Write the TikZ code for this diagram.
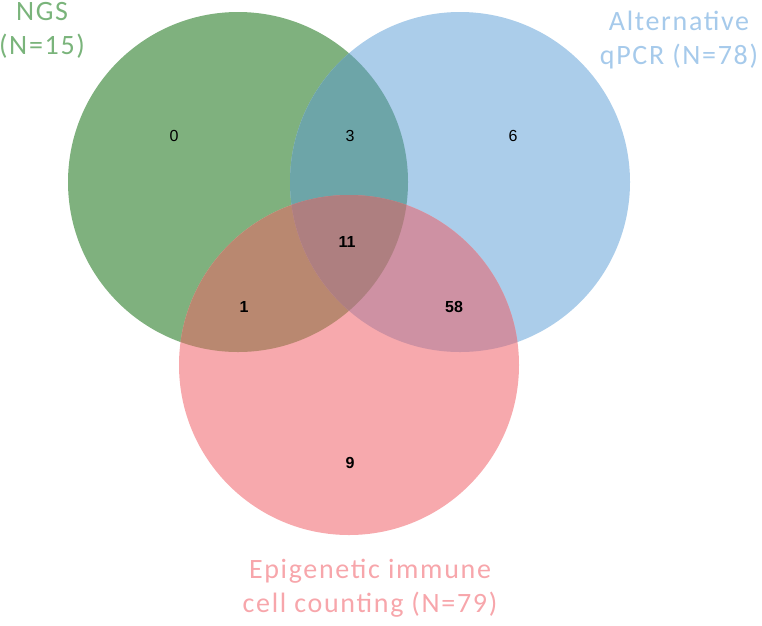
\documentclass[tikz,border=0pt]{standalone}
\usepackage{fontspec}
\setmainfont{Carlito}[LetterSpace=6]
\newfontfamily\numfont{Liberation Sans}
\definecolor{cG}{HTML}{7FB17E}
\definecolor{cB}{HTML}{ABCDEA}
\definecolor{cP}{HTML}{F7A9AD}
\definecolor{cGB}{HTML}{6DA5A8}
\definecolor{cGP}{HTML}{B98870}
\definecolor{cBP}{HTML}{CE91A3}
\definecolor{cGBP}{HTML}{AE7F80}
\definecolor{tG}{HTML}{7AB47B}
\definecolor{tB}{HTML}{A6CAEB}
\definecolor{tP}{HTML}{F7A6AB}
\begin{document}
\begin{tikzpicture}[x=1pt,y=-1pt,
  setlabel/.style={inner sep=0pt, anchor=north, align=center, font=\fontsize{28}{34}\selectfont},
  cnt/.style={inner sep=0pt, font=\numfont\fontsize{16}{18}\selectfont},
  bcnt/.style={cnt, font=\numfont\bfseries\fontsize{16}{18}\selectfont}]
\useasboundingbox (0,0) rectangle (762,625);
\def\G{(238,182) circle[radius=170]}
\def\B{(460,182) circle[radius=170]}
\def\P{(349,365) circle[radius=170]}
\fill[cG] \G;
\fill[cB] \B;
\fill[cP] \P;
\begin{scope}\clip \G; \fill[cGB] \B; \end{scope}
\begin{scope}\clip \G; \fill[cGP] \P; \end{scope}
\begin{scope}\clip \B; \fill[cBP] \P; \end{scope}
\begin{scope}\clip \G; \clip \B; \fill[cGBP] \P; \end{scope}
\node[setlabel, text=tG] (lg) at (42,2.5) {NGS\\(N=15)};
\node[setlabel, text=tB] (lb) at (679,10.5) {Alternative\\qPCR (N=78)};
\node[setlabel, text=tP] (lp) at (370,559) {Epigenetic immune\\cell counting (N=79)};
\node[cnt] (n0) at (174,136) {0};
\node[cnt] (n3) at (350,136) {3};
\node[cnt] (n6) at (513,136) {6};
\node[bcnt] (n11) at (347,242) {11};
\node[bcnt] (n1) at (244,307) {1};
\node[bcnt] (n58) at (454,307) {58};
\node[bcnt] (n9) at (350,463) {9};
\end{tikzpicture}
\end{document}
